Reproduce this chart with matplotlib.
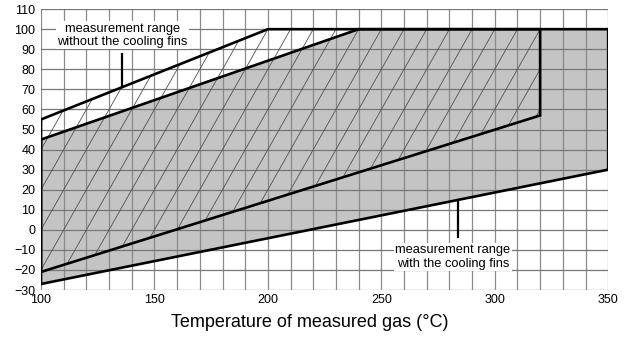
import numpy as np
import matplotlib
matplotlib.use("Agg")
import matplotlib.pyplot as plt
from matplotlib.patches import Polygon

plt.rcParams['font.family'] = ['Liberation Sans', 'DejaVu Sans']

# Boundary of the measurement range without the cooling fins (hatched)
temp_no_fins = [100, 200, 320, 320, 100]
limit_no_fins = [55, 100, 100, 57, -21]
# Boundary of the measurement range with the cooling fins (grey)
temp_fins = [100, 240, 350, 350, 100]
limit_fins = [45, 100, 100, 30, -27]

x_ticks = [100, 150, 200, 250, 300, 350]
y_ticks = list(range(-30, 111, 10))
xlabel = "Temperature of measured gas (°C)"
label_no_fins = "measurement range\nwithout the cooling fins"
label_fins = "measurement range\nwith the cooling fins"

fig = plt.figure(figsize=(6.27, 3.38), dpi=100)
ax = fig.add_axes([0.0654, 0.142, 0.9046, 0.831])
ax.set_xlim(100, 350)
ax.set_ylim(-30, 110)

# grey region
grey = Polygon(np.column_stack([temp_fins, limit_fins]), closed=True,
               facecolor='#c4c4c4', edgecolor='none', zorder=1)
ax.add_patch(grey)

# grid
for gx in range(100, 351, 10):
    ax.axvline(gx, color='#8a8a8a', lw=0.9, zorder=2)
for gy in range(-30, 111, 10):
    ax.axhline(gy, color='#777777', lw=0.9, zorder=2)

# hatch lines (slope 2 in data units) clipped to the "without fins" region
clip = Polygon(np.column_stack([temp_no_fins, limit_no_fins]), closed=True,
               facecolor='none', edgecolor='none')
ax.add_patch(clip)
for x0 in range(-100, 400, 10):
    xs = np.array([x0 - 30, x0 + 100])
    ln, = ax.plot(xs, 2 * (xs - x0), color='#505050', lw=0.6, zorder=3)
    ln.set_clip_path(clip)

# outlines
ax.plot(temp_fins + [temp_fins[0]], limit_fins + [limit_fins[0]],
        color='black', lw=1.9, zorder=4, solid_joinstyle='miter')
ax.plot(temp_no_fins + [temp_no_fins[0]], limit_no_fins + [limit_no_fins[0]],
        color='black', lw=1.9, zorder=4, solid_joinstyle='miter')

# annotations
ax.plot([135.5, 135.5], [71, 87.5], color='black', lw=1.6, zorder=5)
ax.text(136, 97, label_no_fins, ha='center', va='center', fontsize=9.3,
        linespacing=1.15, zorder=6,
        bbox=dict(facecolor='white', edgecolor='none', pad=1.0))
ax.plot([284, 284], [15, -3.6], color='black', lw=1.6, zorder=5)
ax.text(281.5, -13.5, label_fins, ha='center', va='center', fontsize=9.3,
        linespacing=1.15, zorder=6,
        bbox=dict(facecolor='white', edgecolor='none', pad=1.0))

ax.set_xticks(x_ticks)
ax.set_yticks(y_ticks)
ax.tick_params(length=0, labelsize=9, pad=3)
ax.tick_params(axis='y', pad=4)
for s in ax.spines.values():
    s.set_visible(False)
ax.set_xlabel(xlabel, fontsize=13)
ax.xaxis.set_label_coords(0.473, -0.085)
ax.xaxis.label.set_va('top')

fig.savefig("out.png", dpi=100)
